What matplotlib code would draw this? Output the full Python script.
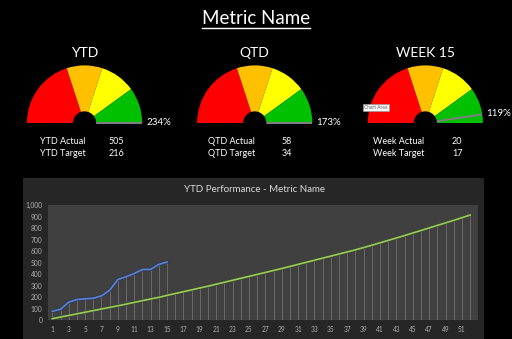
import numpy as np
import matplotlib
matplotlib.use("Agg")
import matplotlib.pyplot as plt
from matplotlib.patches import Circle, Rectangle
from matplotlib.lines import Line2D

plt.rcParams["font.family"] = ["Lato", "DejaVu Sans"]

# -----------------------------------
# data
# -----------------------------------
title = "Metric Name"
gauge_titles = ["YTD", "QTD", "WEEK 15"]
gauge_pct = [234, 173, 119]
gauge_rows = [["YTD Actual", "YTD Target"], ["QTD Actual", "QTD Target"], ["Week Actual", "Week Target"]]
gauge_vals = [[505, 216], [58, 34], [20, 17]]
band_sizes = [40, 20, 20, 20]          # share of the dial
band_colors = ["#FF0000", "#FFC000", "#FFFF00", "#00C000"]
dial_max = 125                          # % at the right end of the dial

chart_title = "YTD Performance - Metric Name"
weeks = list(range(1, 53))
actual = [78, 96, 157, 180, 186, 191, 212, 261, 354, 377, 406, 441, 441, 485, 505]
target = [14, 28, 42, 56, 70, 84, 98, 112, 126, 140, 155, 170, 185, 199, 216,
          232, 248, 264, 280, 296, 313, 330, 347, 364, 381,
          398, 415, 432, 449, 467, 485, 503, 521, 539, 557, 575, 593, 611,
          631, 651, 672, 693, 714, 735, 757, 779, 801, 823, 845, 867, 890, 913]

W, H = 512, 339
fig = plt.figure(figsize=(W / 100, H / 100), dpi=100, facecolor="black")

# title with underline
t = fig.text(256 / W, 1 - 18 / H, title, color="white", fontsize=13.5, ha="center", va="center")
fig.canvas.draw()
bb = t.get_window_extent(fig.canvas.get_renderer())
fig.add_artist(Line2D([bb.x0 / W, bb.x1 / W], [1 - 27.5 / H] * 2, color="white", lw=1,
                      transform=fig.transFigure))

# -----------------------------------
# gauges
# -----------------------------------
centers = [84.5, 254.7, 425.3]
cy = 123
r = 58.5
half = 72
label_x = [[40, 109], [208, 282], [373, 452]]

for i, cx in enumerate(centers):
    ax = fig.add_axes([(cx - half) / W, (H - cy - half) / H, 2 * half / W, 2 * half / H])
    ax.set_xlim(-half / r, half / r)
    ax.set_ylim(-half / r, half / r)
    ax.axis("off")
    ax.pie(band_sizes + [sum(band_sizes)], colors=band_colors + ["none"], startangle=180,
           counterclock=False, radius=1, wedgeprops=dict(linewidth=0))
    ang = np.radians(180 * (1 - min(gauge_pct[i], dial_max) / dial_max))
    ax.plot([0, np.cos(ang)], [0, np.sin(ang)], color="#7F7F7F", lw=1.5, solid_capstyle="butt")
    ax.add_patch(Circle((0, 0), 0.19, color="black", zorder=5))
    ax.text(np.cos(ang) + 4 / r, np.sin(ang) + 0.01, f"{gauge_pct[i]}%", color="white",
            fontsize=7, ha="left", va="center")
    ax.text(0, 71 / r, gauge_titles[i], color="white", fontsize=10, ha="center", va="center")

    for j in range(2):
        y = 1 - (141 + 13 * j) / H
        fig.text(label_x[i][0] / W, y, gauge_rows[i][j], color="white", fontsize=6.5, va="center")
        fig.text(label_x[i][1] / W, y, str(gauge_vals[i][j]), color="white", fontsize=6.5, va="center")

# excel hover tooltip left in the screenshot
fig.text(376 / W, 1 - 107.5 / H, "Chart Area", color="#555555", fontsize=3.5, ha="center", va="center",
         bbox=dict(boxstyle="square,pad=0.3", fc="white", ec="#999999", lw=0.5))

# -----------------------------------
# performance chart
# -----------------------------------
fig.add_artist(Rectangle((23 / W, 0), (484 - 23) / W, (H - 178) / H, transform=fig.transFigure,
                         facecolor="#262626", edgecolor="none", zorder=0))
fig.text(254 / W, 1 - 189 / H, chart_title, color="#D9D9D9", fontsize=7, ha="center", va="center")

ax = fig.add_axes([48 / W, (H - 320.3) / H, 429.5 / W, 115.3 / H])
ax.set_facecolor("#404040")
for s in ax.spines.values():
    s.set_visible(False)

tops = [max(target[k], actual[k]) if k < len(actual) else target[k] for k in range(len(weeks))]
ax.vlines(weeks, 0, tops, color="#7A7A7A", lw=0.5, zorder=1)
ax.axhline(0, color="#8C8C8C", lw=0.8, zorder=1)
ax.plot(weeks, target, color="#3A4A2A", lw=2.2, zorder=2)
ax.plot(weeks, target, color="#9BCB5E", lw=1.2, zorder=3)
ax.plot(weeks[:len(actual)], actual, color="#2A3550", lw=2.3, zorder=2)
ax.plot(weeks[:len(actual)], actual, color="#5B80D0", lw=1.3, zorder=3)

ax.set_xlim(0.47, 52.9)
ax.set_ylim(0, 1000)
ax.set_xticks(weeks[::2])
ax.set_yticks(range(0, 1001, 100))
ax.set_yticklabels([f"{v:,}" for v in range(0, 1001, 100)])
ax.tick_params(colors="#B0B0B0", labelsize=4.8, length=0, pad=4)

fig.savefig("out.png", dpi=100, facecolor="black")
